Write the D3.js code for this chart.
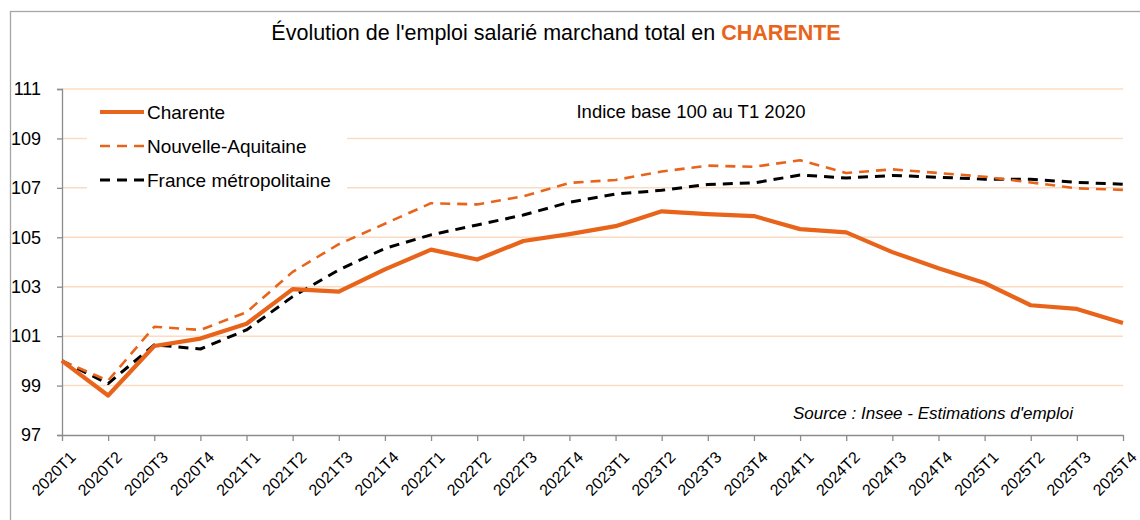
<!DOCTYPE html>
<meta charset="utf-8">
<html>
<head>
  <title>Emploi salarié Charente</title>
  <style>
    body { margin: 0; background: #fff; }
    svg text { font-family: "Liberation Sans", "DejaVu Sans", sans-serif; fill: #000; }
  </style>
</head>
<body>
  <script src="https://d3js.org/d3.v7.js"></script>
  <div id="my_dataviz"></div>
  <script>
    // trimestres
    var quarters = ["2020T1", "2020T2", "2020T3", "2020T4", "2021T1", "2021T2", "2021T3", "2021T4",
      "2022T1", "2022T2", "2022T3", "2022T4", "2023T1", "2023T2", "2023T3", "2023T4",
      "2024T1", "2024T2", "2024T3", "2024T4", "2025T1", "2025T2", "2025T3", "2025T4"];

    var charente = [100.0, 98.6, 100.6, 100.9, 101.5, 102.9, 102.8, 103.7,
      104.5, 104.1, 104.85, 105.13, 105.45, 106.05, 105.94, 105.86,
      105.33, 105.2, 104.4, 103.75, 103.15, 102.25, 102.1, 101.53];

    var nouvelleAquitaine = [100.0, 99.2, 101.38, 101.25, 101.97, 103.6, 104.72, 105.55,
      106.38, 106.33, 106.66, 107.2, 107.32, 107.66, 107.9, 107.85,
      108.12, 107.6, 107.75, 107.6, 107.45, 107.22, 106.98, 106.92];

    var franceMetro = [100.0, 99.08, 100.65, 100.48, 101.25, 102.6, 103.68, 104.55,
      105.1, 105.5, 105.9, 106.42, 106.75, 106.9, 107.14, 107.2,
      107.52, 107.4, 107.5, 107.43, 107.35, 107.35, 107.22, 107.15];

    var yTicks = [97, 99, 101, 103, 105, 107, 109, 111];

    var orange = "#E8641B";

    var series = [
      { name: "Charente", values: charente, color: orange, width: 4.2, dash: null },
      { name: "Nouvelle-Aquitaine", values: nouvelleAquitaine, color: orange, width: 2.6, dash: "10,7" },
      { name: "France métropolitaine", values: franceMetro, color: "#000", width: 3, dash: "10,7" }
    ];

    var W = 1140, H = 520;
    var margin = { top: 89, right: 17, bottom: 85, left: 62 },
      width = W - margin.left - margin.right,
      height = H - margin.top - margin.bottom;

    var root = d3.select("#my_dataviz")
      .append("svg")
      .attr("width", W)
      .attr("height", H);

    // cadre
    root.append("rect")
      .attr("x", 10.5).attr("y", 11.5)
      .attr("width", W + 20).attr("height", H + 20)
      .attr("fill", "none")
      .attr("stroke", "#a6a6a6")
      .attr("stroke-width", 1.3);

    // titre
    var title = root.append("text")
      .attr("x", 556).attr("y", 40)
      .attr("text-anchor", "middle")
      .style("font-size", "21.5px");
    title.append("tspan").text("Évolution de l'emploi salarié marchand total en ");
    title.append("tspan").text("CHARENTE").style("fill", orange).style("font-weight", "bold");

    var svg = root.append("g")
      .attr("transform", "translate(" + margin.left + "," + margin.top + ")");

    var x = d3.scalePoint()
      .domain(quarters)
      .range([0, width]);

    var y = d3.scaleLinear()
      .domain([97, 111])
      .range([height, 0]);

    // grille
    svg.selectAll(".grid")
      .data(yTicks.filter(function (d) { return d > 97; }))
      .enter()
      .append("line")
      .attr("x1", 0).attr("x2", width)
      .attr("y1", function (d) { return y(d); })
      .attr("y2", function (d) { return y(d); })
      .attr("stroke", "#fbdcc2")
      .attr("stroke-width", 1.5);

    // axe Y
    var yAxis = svg.append("g")
      .call(d3.axisLeft(y).tickValues(yTicks).tickSize(5).tickPadding(16));
    yAxis.select(".domain").attr("stroke", "#8c8c8c").attr("stroke-width", 1.3);
    yAxis.selectAll(".tick line").attr("stroke", "#8c8c8c").attr("stroke-width", 1.3);
    yAxis.selectAll(".tick text")
      .style("font-size", "18px")
      .style("font-family", "'Liberation Sans', sans-serif");

    // axe X
    var xAxis = svg.append("g")
      .attr("transform", "translate(0," + height + ")")
      .call(d3.axisBottom(x).tickSize(6).tickSizeOuter(0));
    xAxis.select(".domain").attr("stroke", "#8c8c8c").attr("stroke-width", 1.3);
    xAxis.selectAll(".tick line").attr("stroke", "#8c8c8c").attr("stroke-width", 1.3);
    xAxis.selectAll(".tick text")
      .style("font-size", "16px")
      .style("font-family", "'Liberation Sans', sans-serif")
      .attr("text-anchor", "end")
      .attr("dy", "0.35em")
      .attr("transform", "translate(4,13) rotate(-45)");

    // légende : fond blanc
    svg.append("rect")
      .attr("x", 25).attr("y", 8)
      .attr("width", 260).attr("height", 112)
      .attr("fill", "#fff");

    // courbes
    var line = d3.line()
      .x(function (d, i) { return x(quarters[i]); })
      .y(function (d) { return y(d); });

    series.slice().reverse().forEach(function (s) {
      svg.append("path")
        .datum(s.values)
        .attr("fill", "none")
        .attr("stroke", s.color)
        .attr("stroke-width", s.width)
        .attr("stroke-dasharray", s.dash)
        .attr("stroke-linejoin", "round")
        .attr("d", line);
    });

    // légende
    var leg = svg.selectAll(".leg")
      .data(series)
      .enter()
      .append("g")
      .attr("transform", function (d, i) { return "translate(38," + (23 + i * 34) + ")"; });
    leg.append("line")
      .attr("x1", 0).attr("x2", 44)
      .attr("stroke", function (d) { return d.color; })
      .attr("stroke-width", function (d) { return d.width; })
      .attr("stroke-dasharray", function (d) { return d.dash; });
    leg.append("text")
      .attr("x", 47).attr("dy", "0.35em")
      .style("font-size", "19px")
      .text(function (d) { return d.name; });

    // annotations
    svg.append("text")
      .attr("x", 629).attr("y", 23).attr("dy", "0.35em")
      .attr("text-anchor", "middle")
      .style("font-size", "18.5px")
      .text("Indice base 100 au T1 2020");

    svg.append("text")
      .attr("x", 871).attr("y", 324).attr("dy", "0.35em")
      .attr("text-anchor", "middle")
      .style("font-size", "17px")
      .style("font-style", "italic")
      .text("Source : Insee - Estimations d'emploi");
  </script>
</body>
</html>
